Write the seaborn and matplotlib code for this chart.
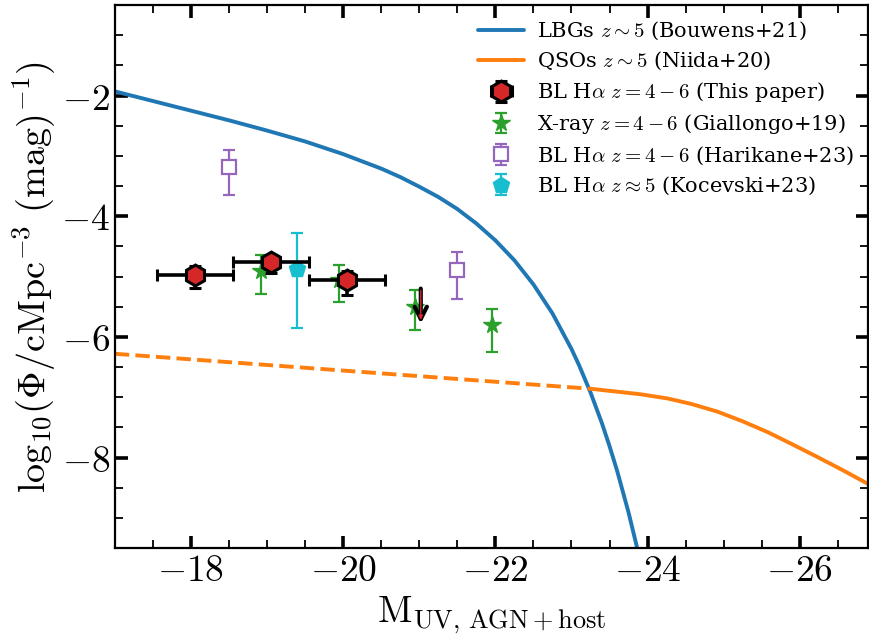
import numpy as np
import pandas as pd
import seaborn as sns
import matplotlib.pyplot as plt
from matplotlib.ticker import MultipleLocator, FuncFormatter

# LBG luminosity function, z~5 (Bouwens+21)
lbg_m = [-17.0, -17.5, -18.0, -18.5, -19.0, -19.5, -20.0, -20.5, -20.75, -21.0,
         -21.25, -21.5, -21.75, -22.0, -22.25, -22.5, -22.75, -23.0, -23.1, -23.25,
         -23.4, -23.5, -23.6, -23.75, -23.9]
lbg_phi = [-1.93, -2.09, -2.25, -2.41, -2.58, -2.76, -2.97, -3.21, -3.35, -3.51,
           -3.68, -3.88, -4.12, -4.40, -4.73, -5.13, -5.61, -6.20, -6.47, -6.92,
           -7.43, -7.81, -8.22, -8.91, -9.69]

# QSO luminosity function, z~5 (Niida+20): dashed extrapolation + solid part
qso_dash_m = [-17.0, -23.25]
qso_dash_phi = [-6.28, -6.86]
qso_m = [-23.25, -23.9, -24.26, -24.57, -24.92, -25.25, -25.58, -25.9, -26.23, -26.55, -26.93]
qso_phi = [-6.86, -6.95, -7.02, -7.11, -7.24, -7.40, -7.58, -7.78, -7.99, -8.20, -8.46]

# BL Halpha, this paper
this_m = [-18.05, -19.05, -20.05]
this_phi = [-4.97, -4.76, -5.05]
this_merr = [0.5, 0.5, 0.5]
this_lo = [0.22, 0.18, 0.25]
this_hi = [0.14, 0.12, 0.15]
lim_m = [-21.02]
lim_phi = [-5.2]
lim_len = [0.58]

# X-ray, Giallongo+19
xray_m = [-18.92, -19.94, -20.95, -21.95]
xray_phi = [-4.90, -5.06, -5.50, -5.80]
xray_lo = [0.39, 0.37, 0.38, 0.45]
xray_hi = [0.26, 0.25, 0.27, 0.27]

# BL Halpha, Harikane+23
hari_m = [-18.5, -21.5]
hari_phi = [-3.18, -4.89]
hari_lo = [0.47, 0.48]
hari_hi = [0.28, 0.29]

# BL Halpha, Kocevski+23
koc_m = [-19.4]
koc_phi = [-4.88]
koc_lo = [0.98]
koc_hi = [0.61]

sns.set_style('ticks', {'axes.edgecolor': 'black', 'xtick.color': 'black',
                        'ytick.color': 'black', 'text.color': 'black',
                        'axes.labelcolor': 'black'})
plt.rcParams['font.family'] = ['DejaVu Serif']
plt.rcParams['mathtext.fontset'] = 'cm'

fig = plt.figure(figsize=(8.7, 6.39), dpi=100)
ax = fig.add_axes([0.132, 0.1424, 0.866, 0.8496])

lbg = pd.DataFrame({'M': lbg_m, 'phi': lbg_phi})
qd = pd.DataFrame({'M': qso_dash_m, 'phi': qso_dash_phi})
qs = pd.DataFrame({'M': qso_m, 'phi': qso_phi})

sns.lineplot(data=lbg, x='M', y='phi', ax=ax, color='#1f77b4', lw=2.8, sort=False,
             label=r'LBGs $z\sim5$ (Bouwens+21)')
sns.lineplot(data=qs, x='M', y='phi', ax=ax, color='#ff7f0e', lw=2.8, sort=False,
             label=r'QSOs $z\sim5$ (Niida+20)')
sns.lineplot(data=qd, x='M', y='phi', ax=ax, color='#ff7f0e', lw=2.8, ls='--', sort=False)

ax.errorbar(xray_m, xray_phi, yerr=[xray_lo, xray_hi], fmt='*', color='#2ca02c',
            ms=13, elinewidth=1.6, capsize=4, capthick=1.6, zorder=4,
            label=r'X-ray $z=4-6$ (Giallongo+19)')
ax.errorbar(hari_m, hari_phi, yerr=[hari_lo, hari_hi], fmt='s', color='#9467bd',
            mfc='white', mec='#9467bd', mew=1.6, ms=10, elinewidth=1.6, capsize=4,
            capthick=1.6, zorder=4, label=r'BL H$\alpha$ $z=4-6$ (Harikane+23)')
ax.errorbar(koc_m, koc_phi, yerr=[koc_lo, koc_hi], fmt='p', color='#17becf',
            ms=12, elinewidth=1.6, capsize=4, capthick=1.6, zorder=4,
            label=r'BL H$\alpha$ $z\approx5$ (Kocevski+23)')
ax.errorbar(this_m, this_phi, xerr=this_merr, yerr=[this_lo, this_hi], fmt='h', color='k',
            mfc='#d62728', mec='k', mew=2.2, ms=15, elinewidth=2.6, capsize=4,
            capthick=2.6, zorder=6, label=r'BL H$\alpha$ $z=4-6$ (This paper)')

# upper limit: black arrow with a thin red core
for m, p, d in zip(lim_m, lim_phi, lim_len):
    ax.annotate('', xy=(m, p - d), xytext=(m, p),
                arrowprops=dict(arrowstyle='->', color='k', lw=3,
                                mutation_scale=22, shrinkA=0, shrinkB=0), zorder=6)
    ax.annotate('', xy=(m, p - d + 0.06), xytext=(m, p - 0.03),
                arrowprops=dict(arrowstyle='-|>', color='#d62728', lw=1,
                                mutation_scale=6, shrinkA=0, shrinkB=0), zorder=7)

ax.set_xlim(-17, -26.9)
ax.set_ylim(-9.5, -0.5)
ax.xaxis.set_major_locator(MultipleLocator(2))
ax.xaxis.set_minor_locator(MultipleLocator(0.5))
ax.yaxis.set_major_locator(MultipleLocator(2))
ax.yaxis.set_minor_locator(MultipleLocator(0.5))
fmt = FuncFormatter(lambda v, pos: r'$%g$' % v)
ax.xaxis.set_major_formatter(fmt)
ax.yaxis.set_major_formatter(fmt)
ax.tick_params(which='both', direction='in', top=True, right=True, labelsize=27)
ax.tick_params(which='major', length=9, width=2.6)
ax.tick_params(which='minor', length=6, width=1.3)
for s in ax.spines.values():
    s.set_linewidth(1.6)

ax.set_xlabel(r'$\rm M_{UV,\,AGN+host}$', fontsize=27, labelpad=4)
ax.set_ylabel(r'$\rm log_{10}(\Phi/cMpc^{-3}\ (mag)^{-1})$', fontsize=27.5, labelpad=2)

h, l = ax.get_legend_handles_labels()
order = [l.index(k) for k in [r'LBGs $z\sim5$ (Bouwens+21)', r'QSOs $z\sim5$ (Niida+20)',
                              r'BL H$\alpha$ $z=4-6$ (This paper)', r'X-ray $z=4-6$ (Giallongo+19)',
                              r'BL H$\alpha$ $z=4-6$ (Harikane+23)', r'BL H$\alpha$ $z\approx5$ (Kocevski+23)']]
ax.legend([h[i] for i in order], [l[i] for i in order], loc='upper right', frameon=False,
          fontsize=15, handlelength=2.2, handletextpad=0.6, labelspacing=0.38,
          borderaxespad=0.3)

fig.savefig('out.png', dpi=100)
